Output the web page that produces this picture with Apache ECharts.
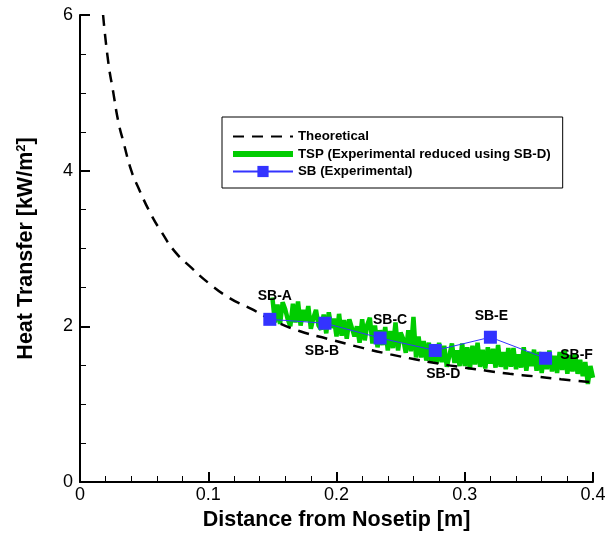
<!DOCTYPE html>
<html>
<head>
<meta charset="utf-8">
<script src="https://cdn.jsdelivr.net/npm/echarts@6/dist/echarts.min.js"></script>
<style>
  html, body { margin: 0; padding: 0; background: #fff; overflow: hidden; }
  #chart { width: 605px; height: 533px; }
</style>
</head>
<body>
<div id="chart"></div>
<script>
// Theoretical heat-transfer curve (distance [m], q [kW/m^2])
const theoryX = [0.018, 0.022, 0.026, 0.030, 0.034, 0.040, 0.045, 0.055, 0.064, 0.074, 0.087, 0.100,
                 0.117, 0.134, 0.150, 0.171, 0.193, 0.221, 0.242, 0.260, 0.280, 0.300, 0.317, 0.335,
                 0.353, 0.375, 0.400];
const theoryQ = [6.00, 5.40, 5.00, 4.62, 4.36, 4.00, 3.80, 3.45, 3.20, 2.96, 2.75, 2.56,
                 2.36, 2.22, 2.08, 1.94, 1.84, 1.72, 1.64, 1.58, 1.52, 1.47, 1.43, 1.39,
                 1.36, 1.32, 1.28];

// TSP trace, sampled every 2 mm from 0.150 m
const tspStart = 0.150;
const tspStep = 0.002;
const tspQ = [
  2.37, 2.05, 2.28, 2.03, 2.31, 2.22, 2.09, 2.00, 2.29, 2.05,
  2.32, 2.01, 2.21, 2.07, 2.26, 1.97, 2.11, 2.21, 2.01, 1.96,
  2.15, 1.91, 2.18, 1.98, 2.10, 1.87, 2.16, 1.88, 2.08, 1.84,
  2.09, 1.98, 1.87, 2.00, 1.79, 2.09, 1.82, 2.02, 2.11, 1.78,
  2.01, 1.73, 1.95, 1.76, 1.99, 1.69, 1.94, 1.72, 2.05, 1.69,
  1.92, 1.84, 1.66, 1.95, 1.68, 2.12, 1.60, 1.87, 1.60, 1.81,
  1.56, 1.79, 1.54, 1.75, 1.52, 1.79, 1.54, 1.75, 1.48, 1.62,
  1.78, 1.53, 1.69, 1.49, 1.78, 1.49, 1.73, 1.45, 1.75, 1.51,
  1.79, 1.48, 1.70, 1.46, 1.73, 1.52, 1.71, 1.47, 1.76, 1.48,
  1.67, 1.45, 1.72, 1.48, 1.72, 1.45, 1.64, 1.47, 1.73, 1.43,
  1.67, 1.49, 1.70, 1.43, 1.67, 1.40, 1.65, 1.45, 1.69, 1.42,
  1.62, 1.40, 1.67, 1.44, 1.69, 1.39, 1.63, 1.42, 1.65, 1.39,
  1.57, 1.36, 1.54, 1.26, 1.49, 1.34
];

// Surface-gauge (SB) measurements
const sbNames = ['SB-A', 'SB-B', 'SB-C', 'SB-D', 'SB-E', 'SB-F'];
const sbX = [0.148, 0.191, 0.234, 0.277, 0.320, 0.363];
const sbQ = [2.09, 2.04, 1.85, 1.69, 1.86, 1.59];

// Axis ranges / ticks
const xMin = 0, xMax = 0.4, xInterval = 0.1;
const yMin = 0, yMax = 6, yInterval = 2;

// Label placement around each SB marker (pixels from marker centre)
const sbLabelOffset = [[5, -23], [-3, 28], [10, -18], [8, 24], [1, -21], [31, -3]];

const FONT = 'Liberation Sans, Arial, sans-serif';
const NAME_THEORY = 'Theoretical';
const NAME_TSP = 'TSP (Experimental reduced using SB-D)';
const NAME_SB = 'SB (Experimental)';

const theoryData = theoryX.map((x, i) => [x, theoryQ[i]]);
const tspData = tspQ.map((q, i) => [+(tspStart + i * tspStep).toFixed(3), q]);
const sbData = sbX.map((x, i) => ({
  value: [x, sbQ[i]],
  label: { formatter: sbNames[i], offset: sbLabelOffset[i] }
}));

const chart = echarts.init(document.getElementById('chart'), null, { renderer: 'canvas' });

const axisCommon = {
  axisLine: { show: true, onZero: false, lineStyle: { color: '#000', width: 2 } },
  axisTick: { show: true, inside: true, length: 10, lineStyle: { color: '#000', width: 2 } },
  minorTick: { show: true, length: 6, lineStyle: { color: '#000', width: 1 } },
  splitLine: { show: false },
  axisLabel: { color: '#000', fontSize: 18, fontFamily: FONT }
};

chart.setOption({
  animation: false,
  backgroundColor: '#fff',
  grid: { left: 80, right: 12, top: 15, bottom: 51, containLabel: false, outerBoundsMode: 'none' },
  legend: {
    orient: 'vertical',
    left: 222,
    top: 117,
    padding: [13, 12, 10, 8],
    itemWidth: 60,
    itemHeight: 14,
    itemGap: 4.5,
    borderColor: '#000',
    borderWidth: 1,
    backgroundColor: '#fff',
    textStyle: { color: '#000', fontSize: 13.3, fontWeight: 'bold', fontFamily: FONT },
    data: [
      { name: NAME_THEORY, itemStyle: { opacity: 0 } },
      { name: NAME_TSP, itemStyle: { opacity: 0 }, lineStyle: { width: 6 } },
      { name: NAME_SB }
    ]
  },
  xAxis: Object.assign({}, axisCommon, {
    type: 'value',
    min: xMin, max: xMax, interval: xInterval,
    minorTick: Object.assign({}, axisCommon.minorTick, { splitNumber: 5 }),
    axisLabel: Object.assign({}, axisCommon.axisLabel, { margin: 4 }),
    name: 'Distance from Nosetip [m]',
    nameLocation: 'middle',
    nameGap: 27,
    nameTextStyle: { color: '#000', fontSize: 21.5, fontWeight: 'bold', fontFamily: FONT }
  }),
  yAxis: Object.assign({}, axisCommon, {
    type: 'value',
    min: yMin, max: yMax, interval: yInterval,
    minorTick: Object.assign({}, axisCommon.minorTick, { splitNumber: 4 }),
    axisLabel: Object.assign({}, axisCommon.axisLabel, { margin: 7 }),
    name: '{a|Heat Transfer [kW/m}{s|2}{a|]}',
    nameLocation: 'middle',
    nameGap: 42,
    nameTextStyle: {
      color: '#000', fontFamily: FONT,
      rich: {
        a: { fontSize: 21.5, fontWeight: 'bold', fontFamily: FONT, color: '#000' },
        s: { fontSize: 13, fontWeight: 'bold', fontFamily: FONT, color: '#000', padding: [0, 0, 10, 0] }
      }
    }
  }),
  series: [
    {
      name: NAME_TSP,
      type: 'line',
      data: tspData,
      symbol: 'none',
      z: 1,
      lineStyle: { color: '#00cc00', width: 4.5, join: 'bevel' },
      itemStyle: { color: '#00cc00' }
    },
    {
      name: NAME_THEORY,
      type: 'line',
      data: theoryData,
      smooth: true,
      symbol: 'none',
      z: 2,
      lineStyle: { color: '#000', width: 2.5, type: [11, 8] },
      itemStyle: { color: '#000' }
    },
    {
      name: NAME_SB,
      type: 'line',
      data: sbData,
      symbol: 'rect',
      symbolSize: 13,
      z: 3,
      lineStyle: { color: '#3333ff', width: 1 },
      itemStyle: { color: '#3333ff' },
      label: {
        show: true,
        position: 'inside',
        color: '#000',
        fontSize: 14,
        fontWeight: 'bold',
        fontFamily: FONT
      }
    }
  ]
});
</script>
</body>
</html>
